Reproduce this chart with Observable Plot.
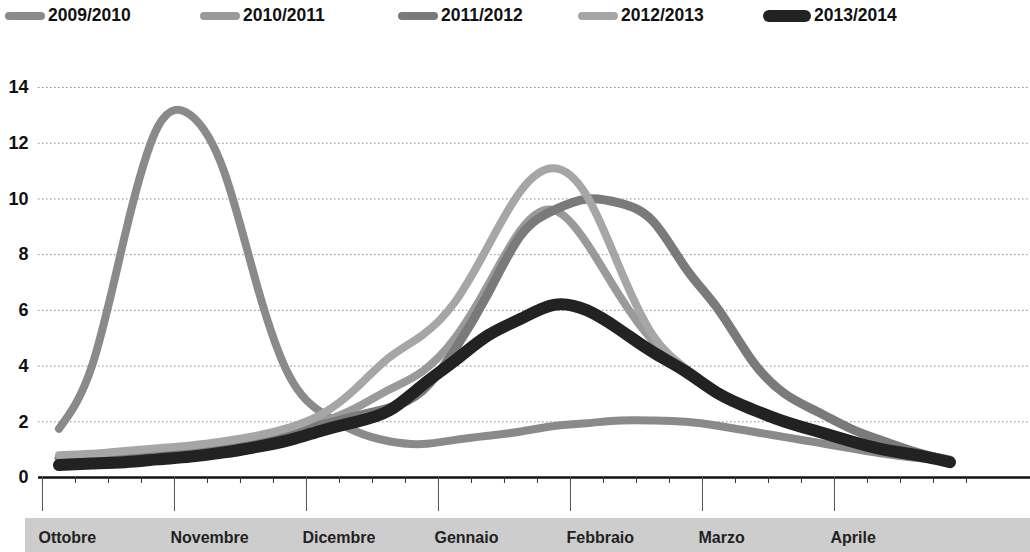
<!DOCTYPE html>
<html>
<head>
<meta charset="utf-8">
<script src="https://cdn.jsdelivr.net/npm/d3@7"></script>
<script src="https://cdn.jsdelivr.net/npm/@observablehq/plot@0.6"></script>
<style>
  body { margin: 0; background: #fff; font-family: "Liberation Sans", Arial, sans-serif; }
  #wrap { position: relative; width: 1030px; height: 552px; overflow: hidden; }
  #legend { position: absolute; left: 0; top: 0; width: 1030px; height: 40px; }
  .item { position: absolute; top: 5px; display: flex; align-items: center; font-weight: bold; font-size: 17.5px; color: #111; }
  .sw { display: inline-block; width: 40px; height: 8px; border-radius: 5px; margin-right: 3px; }
  #band { position: absolute; left: 25px; top: 518px; width: 1005px; height: 34px; background: #cdcdcd; z-index: 0; }
  #chart { position: absolute; left: 0; top: 40px; z-index: 1; }
</style>
</head>
<body>
<div id="wrap">
  <div id="legend"></div>
  <div id="band"></div>
  <div id="chart"></div>
</div>
<script>
// Week index 0 = week 42 (October) ... 27 = week 17 (April)
const weeks = d3.range(28);
const seasons = ["2009/2010", "2010/2011", "2011/2012", "2012/2013", "2013/2014"];
const s0910 = [1.75, 4.0, 8.7, 12.6, 13.0, 11.0, 6.9, 3.6, 2.3, 1.65, 1.3, 1.2, 1.35, 1.5, 1.65, 1.85, 1.95, 2.05, 2.05, 2.0, 1.85, 1.65, 1.45, 1.25, 1.05, 0.85, 0.7, 0.6];
const s1011 = [0.7, 0.75, 0.85, 0.95, 1.05, 1.2, 1.4, 1.65, 2.0, 2.5, 3.15, 3.8, 5.0, 6.9, 8.9, 9.6, 8.4, 6.5, 4.9, 3.9, 3.05, 2.45, 2.05, 1.7, 1.35, 1.05, 0.85, 0.6];
const s1112 = [0.7, 0.75, 0.8, 0.9, 1.0, 1.15, 1.35, 1.6, 1.9, 2.2, 2.5, 3.1, 4.6, 6.6, 8.7, 9.6, 10.0, 9.85, 9.2, 7.5, 6.0, 4.2, 3.0, 2.35, 1.75, 1.3, 0.9, 0.6];
const s1213 = [0.8, 0.85, 0.95, 1.05, 1.15, 1.3, 1.5, 1.8, 2.3, 3.2, 4.3, 5.1, 6.3, 8.3, 10.3, 11.1, 10.1, 7.5, 5.1, 3.9, 3.0, 2.4, 2.0, 1.65, 1.35, 1.05, 0.85, 0.65];
const s1314 = [0.45, 0.5, 0.55, 0.65, 0.75, 0.9, 1.1, 1.35, 1.7, 2.0, 2.4, 3.3, 4.2, 5.1, 5.7, 6.2, 6.0, 5.3, 4.5, 3.8, 3.0, 2.45, 2.0, 1.65, 1.3, 1.0, 0.8, 0.55];
const seriesValues = [s0910, s1011, s1112, s1213, s1314];
const yTicks = [0, 2, 4, 6, 8, 10, 12, 14];
const months = ["Ottobre", "Novembre", "Dicembre", "Gennaio", "Febbraio", "Marzo", "Aprile"];
const weekBounds = d3.range(29).map(k => k - 0.5);
const monthStarts = [-0.5, 3.5, 7.5, 11.5, 15.5, 19.5, 23.5];

const colors = ["#8a8a8a", "#9a9a9a", "#7a7a7a", "#a6a6a6", "#222222"];
const widths = [8, 8, 9, 8, 12];

const table = seasons.flatMap((s, i) => weeks.map(w => ({season: s, week: w, value: seriesValues[i][w]})));

// legend
const legendLeft = [5, 200, 398, 578, 763];
const legend = document.getElementById("legend");
seasons.forEach((s, i) => {
  const it = document.createElement("div");
  it.className = "item";
  it.style.left = legendLeft[i] + "px";
  const sw = document.createElement("span");
  sw.className = "sw";
  sw.style.background = colors[i];
  if (i === 4) { sw.style.width = "48px"; sw.style.height = "12px"; sw.style.borderRadius = "6px"; }
  it.appendChild(sw);
  it.appendChild(document.createTextNode(s));
  legend.appendChild(it);
});

const lineMarks = seasons.map((s, i) =>
  Plot.line(table.filter(d => d.season === s), {
    x: "week", y: "value", stroke: colors[i], strokeWidth: widths[i],
    strokeLinecap: "round", strokeLinejoin: "round", curve: "natural"
  })
);

const chart = Plot.plot({
  width: 1030,
  height: 512,
  marginLeft: 38,
  marginRight: 0,
  marginTop: 47,
  marginBottom: 75,
  x: {domain: [-0.62, 29.44], axis: null},
  y: {domain: [0, 14], axis: null},
  style: {background: "transparent", fontFamily: "'Liberation Sans', Arial, sans-serif", overflow: "visible"},
  marks: [
    Plot.gridY(yTicks.filter(d => d > 0), {stroke: "#555", strokeOpacity: 0.7, strokeDasharray: "1.5,2.5", strokeWidth: 1}),
    Plot.axisY(yTicks, {tickSize: 0, tickPadding: 10, fontSize: 18, fontWeight: "bold", fill: "#111", label: null}),
    ...lineMarks,
    Plot.ruleY([0], {stroke: "#111", strokeWidth: 2.5}),
    Plot.axisX(weekBounds, {tickSize: 6, tickFormat: () => "", stroke: "#333", label: null}),
    Plot.axisX(monthStarts, {tickSize: 34, tickFormat: () => "", stroke: "#555", label: null}),
    Plot.axisX(monthStarts, {tickSize: 0, tickPadding: 54, tickFormat: d => months[monthStarts.indexOf(d)],
      textAnchor: "start", dx: -4, fontSize: 16, fontWeight: "bold", fill: "#222", label: null})
  ]
});
document.getElementById("chart").appendChild(chart);
</script>
</body>
</html>
